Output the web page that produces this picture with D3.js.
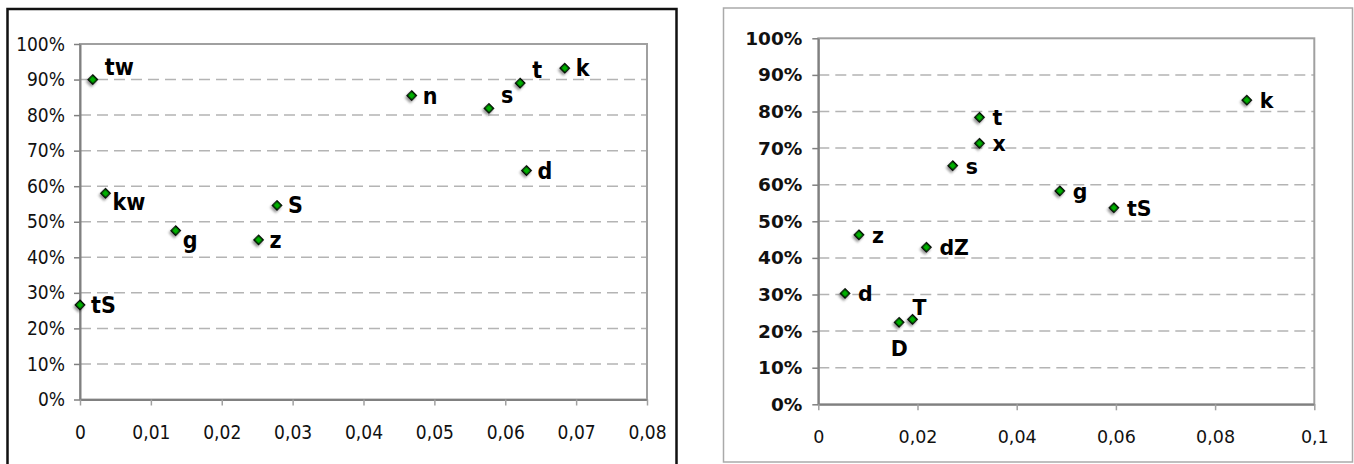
<!DOCTYPE html>
<html>
<head>
<meta charset="utf-8">
<script src="https://cdn.jsdelivr.net/npm/d3@7"></script>
<style>
  body { margin: 0; background: #fff; }
  .narrow { font-family: "Liberation Sans Narrow", "DejaVu Sans Condensed", "Liberation Sans", sans-serif; }
  .verd { font-family: "DejaVu Sans", Verdana, sans-serif; }
</style>
</head>
<body>
<svg id="chart" width="1354" height="464"></svg>
<script>
// left chart data
var leftSounds = ["tw", "kw", "g", "z", "S", "tS", "n", "s", "t", "k", "d"];
var leftX = [0.0018, 0.0036, 0.0135, 0.0252, 0.0278, 0, 0.0468, 0.0577, 0.0621, 0.0684, 0.0630];
var leftY = [0.900, 0.580, 0.475, 0.449, 0.546, 0.266, 0.855, 0.819, 0.890, 0.932, 0.644];
var leftLabelPos = ["ar", "br", "br", "r", "r", "r", "r", "ar", "ar", "r", "r"];
var leftXTicks = [0, 0.01, 0.02, 0.03, 0.04, 0.05, 0.06, 0.07, 0.08];

// right chart data
var rightSounds = ["t", "x", "s", "k", "g", "tS", "z", "dZ", "d", "D", "T"];
var rightX = [0.0325, 0.0325, 0.0271, 0.0864, 0.0487, 0.0596, 0.0082, 0.0218, 0.0054, 0.0163, 0.0190];
var rightY = [0.784, 0.713, 0.652, 0.831, 0.583, 0.537, 0.463, 0.429, 0.303, 0.224, 0.232];
var rightLabelPos = ["r", "r", "r", "r", "r", "r", "r", "r", "r", "b", "ar"];
var rightXTicks = [0, 0.02, 0.04, 0.06, 0.08, 0.1];

var yTicks = [0, 0.1, 0.2, 0.3, 0.4, 0.5, 0.6, 0.7, 0.8, 0.9, 1];

var svg = d3.select("#chart");

// comma decimal locale
var locale = d3.formatLocale({decimal: ",", thousands: ".", grouping: [3], currency: ["", ""]});
var xFormat = locale.format("~g");
var yFormat = d3.format(".0%");

// marker shadow
var defs = svg.append("defs");
var filt = defs.append("filter").attr("id", "shadow")
    .attr("x", "-50%").attr("y", "-50%").attr("width", "200%").attr("height", "250%");
filt.append("feDropShadow")
    .attr("dx", 0.5).attr("dy", 2.5).attr("stdDeviation", 1)
    .attr("flood-color", "#000").attr("flood-opacity", 0.4);

function drawChart(cfg) {
    var g = svg.append("g").attr("class", cfg.fontClass);

    // outer frame
    g.append("rect")
        .attr("x", cfg.frame[0]).attr("y", cfg.frame[1])
        .attr("width", cfg.frame[2]).attr("height", cfg.frame[3])
        .attr("fill", "none")
        .attr("stroke", cfg.frameColor)
        .attr("stroke-width", cfg.frameWidth);

    var xScale = d3.scaleLinear().domain([0, cfg.xMax]).range([cfg.left, cfg.right]);
    var yScale = d3.scaleLinear().domain([0, 1]).range([cfg.bottom, cfg.top]);

    // dashed gridlines
    g.append("g").selectAll("line")
        .data(yTicks.filter(function(d) { return d > 0 && d < 1; }))
        .enter().append("line")
        .attr("x1", cfg.left).attr("x2", cfg.right)
        .attr("y1", function(d) { return yScale(d); })
        .attr("y2", function(d) { return yScale(d); })
        .attr("stroke", "#b4b4b4")
        .attr("stroke-width", 1.5)
        .attr("stroke-dasharray", "11,6");

    // plot area border
    g.append("rect")
        .attr("x", cfg.left).attr("y", cfg.top)
        .attr("width", cfg.right - cfg.left).attr("height", cfg.bottom - cfg.top)
        .attr("fill", "none")
        .attr("stroke", "#a0a0a0")
        .attr("stroke-width", 2);

    // Y axis
    var yAxis = d3.axisLeft(yScale)
        .tickValues(yTicks)
        .tickFormat(yFormat)
        .tickSizeInner(6).tickSizeOuter(0).tickPadding(cfg.yPad);
    var ya = g.append("g")
        .attr("transform", "translate(" + cfg.left + ",0)")
        .call(yAxis);
    ya.attr("font-family", null).attr("font-size", null);
    ya.select(".domain").attr("stroke", "#808080").attr("stroke-width", 2);
    ya.selectAll(".tick line").attr("stroke", "#808080").attr("stroke-width", 1.5);
    ya.selectAll(".tick text")
        .attr("fill", "#111")
        .style("font-size", cfg.yFontSize + "px")
        .style("font-weight", cfg.yWeight);

    // X axis
    var xAxis = d3.axisBottom(xScale)
        .tickValues(cfg.xTicks)
        .tickFormat(xFormat)
        .tickSizeInner(6).tickSizeOuter(0).tickPadding(cfg.xPad);
    var xa = g.append("g")
        .attr("transform", "translate(0," + cfg.bottom + ")")
        .call(xAxis);
    xa.attr("font-family", null).attr("font-size", null);
    xa.select(".domain").attr("stroke", "#808080").attr("stroke-width", 2);
    xa.selectAll(".tick line").attr("stroke", "#a0a0a0").attr("stroke-width", 1.5);
    xa.selectAll(".tick text")
        .attr("fill", "#111")
        .style("font-size", cfg.xFontSize + "px");

    // points
    var pts = cfg.sounds.map(function(s, i) {
        return {name: s, x: cfg.xs[i], y: cfg.ys[i], pos: cfg.pos[i]};
    });

    var diamond = d3.symbol().type(d3.symbolSquare).size(42);
    g.append("g").selectAll("path")
        .data(pts)
        .enter().append("path")
        .attr("d", diamond)
        .attr("transform", function(d) {
            return "translate(" + xScale(d.x) + "," + yScale(d.y) + ") rotate(45)";
        })
        .attr("fill", "#00b000")
        .attr("stroke", "#000")
        .attr("stroke-width", 1.3)
        .attr("filter", "url(#shadow)");

    g.append("g").selectAll("text")
        .data(pts)
        .enter().append("text")
        .attr("x", function(d) { return xScale(d.x) + cfg.offsets[d.pos][0]; })
        .attr("y", function(d) { return yScale(d.y) + cfg.offsets[d.pos][1]; })
        .attr("text-anchor", function(d) { return d.pos === "b" ? "middle" : "start"; })
        .style("font-size", cfg.labelSize + "px")
        .style("font-weight", "bold")
        .attr("fill", "#000")
        .text(function(d) { return d.name; });
}

drawChart({
    fontClass: "narrow",
    frame: [7.5, 9, 669, 470],
    frameColor: "#111",
    frameWidth: 2.5,
    left: 80, right: 647, top: 44, bottom: 399.5,
    xMax: 0.08,
    xTicks: leftXTicks,
    yFontSize: 19, yWeight: "normal", yPad: 9,
    xFontSize: 19, xPad: 20,
    sounds: leftSounds, xs: leftX, ys: leftY, pos: leftLabelPos,
    labelSize: 23,
    offsets: {r: [11, 8], ar: [12, -5], br: [7, 17], b: [0, 30]}
});

drawChart({
    fontClass: "verd",
    frame: [723.5, 8, 629, 454],
    frameColor: "#aaaaaa",
    frameWidth: 1.5,
    left: 818.3, right: 1314.3, top: 38.3, bottom: 404.3,
    xMax: 0.1,
    xTicks: rightXTicks,
    yFontSize: 18.5, yWeight: "bold", yPad: 10,
    xFontSize: 17.5, xPad: 20,
    sounds: rightSounds, xs: rightX, ys: rightY, pos: rightLabelPos,
    labelSize: 20.5,
    offsets: {r: [13, 8], ar: [0, -4], br: [7, 17], b: [0, 34]}
});
</script>
</body>
</html>
